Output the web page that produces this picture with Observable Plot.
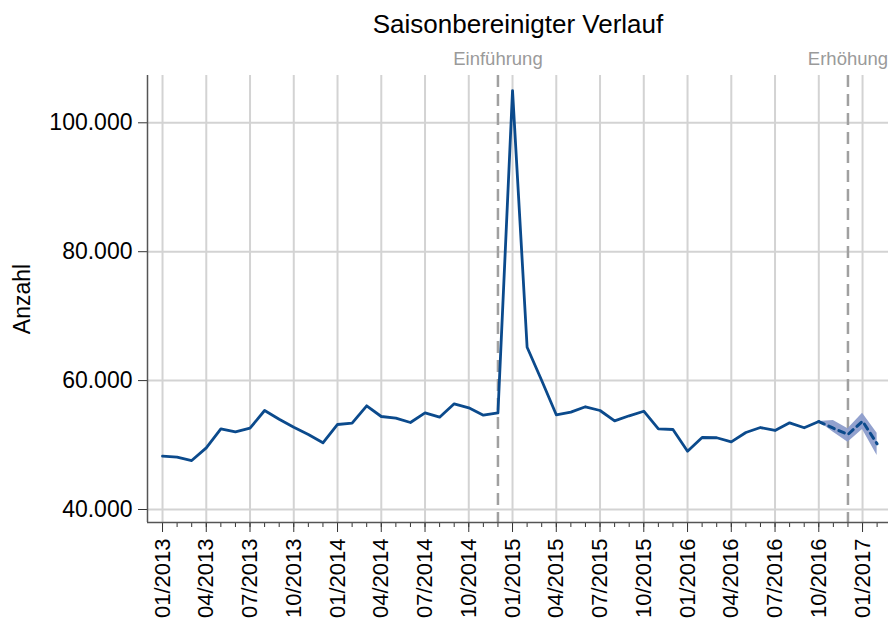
<!DOCTYPE html>
<html><head><meta charset="utf-8">
<script src="https://cdn.jsdelivr.net/npm/d3@7"></script>
<script src="https://cdn.jsdelivr.net/npm/@observablehq/plot@0.6"></script>
<style>
body{margin:0;background:#fff;}
#chart svg{display:block;}
</style></head><body><div id="chart"></div>
<script>
// monthly index 0 = 01/2013
const values = [48270, 48115, 47600, 49570, 52520, 52060, 52615, 55360, 54010, 52770,
  51640, 50350, 53190, 53390, 56090, 54430, 54170, 53500, 55000, 54320,
  56400, 55780, 54630, 55000, 105000, 65180, 60020, 54690, 55100, 55940,
  55360, 53760, 54540, 55250, 52520, 52410, 49050, 51170, 51130, 50500,
  51950, 52720, 52260, 53450, 52680, 53650];
const forecastStart = 45;
const forecastValues = [53650, 52615, 51640, 53700, 50190];
const forecastLow = [53650, 51990, 50440, 52410, 48380];
const forecastHigh = [53650, 53810, 52520, 54940, 51840];
const tickLabels = ["01/2013","04/2013","07/2013","10/2013","01/2014","04/2014","07/2014","10/2014",
  "01/2015","04/2015","07/2015","10/2015","01/2016","04/2016","07/2016","10/2016","01/2017"];
const yTicks = [40000, 60000, 80000, 100000];
const eventLabels = ["Einführung", "Erhöhung"];
const eventIndex = [23, 47];

const de = d3.formatLocale({decimal: ",", thousands: ".", grouping: [3], currency: ["", "€"]});
const fmt = de.format(",.0f");

const actual = values.map((v, i) => ({t: i, v}));
const fc = forecastValues.map((v, i) => ({t: forecastStart + i, v, lo: forecastLow[i], hi: forecastHigh[i]}));
const events = eventLabels.map((label, i) => ({t: eventIndex[i], label}));
const major = tickLabels.map((_, i) => i * 3);
const minor = d3.range(0, 50);
const xDomain = [-1.03, 49.78];
const yDomain = [37983, 107340];
const lineColor = "#0b4a8c";
const gridColor = "#d3d3d3";
const axisColor = "#555555";

const chart = Plot.plot({
  width: 890, height: 623,
  marginLeft: 147, marginRight: 2, marginTop: 75, marginBottom: 101,
  style: {fontFamily: "'Liberation Sans', Arial, sans-serif", fontSize: "22px", background: "#fff", color: "#000"},
  x: {type: "linear", domain: xDomain},
  y: {domain: yDomain},
  marks: [
    Plot.ruleX(major, {stroke: gridColor, strokeWidth: 2}),
    Plot.ruleY(yTicks, {stroke: gridColor, strokeWidth: 2}),
    Plot.ruleX(events, {x: "t", stroke: "#a0a0a0", strokeWidth: 2.5, strokeDasharray: "12,7"}),
    Plot.text(events, {x: "t", text: "label", frameAnchor: "top", lineAnchor: "middle", dy: -16, fill: "#9a9a9a", fontSize: 18.5}),
    Plot.areaY(fc, {x: "t", y1: "lo", y2: "hi", fill: "#8c9ccb", fillOpacity: 0.95}),
    Plot.line(actual, {x: "t", y: "v", stroke: lineColor, strokeWidth: 2.8}),
    Plot.line(fc, {x: "t", y: "v", stroke: lineColor, strokeWidth: 3, strokeDasharray: "6,5"}),
    Plot.axisX(minor, {tickSize: 5, text: null, stroke: "#333", label: null}),
    Plot.axisX(major, {tickSize: 10, tickPadding: 6, tickRotate: -90, tickFormat: (d, i) => tickLabels[i], stroke: "#333", fontSize: 22, label: null}),
    Plot.axisY(yTicks, {tickSize: 9, tickPadding: 6, tickFormat: fmt, stroke: "#333", fontSize: 23, label: null}),
    Plot.ruleX([xDomain[0]], {stroke: axisColor, strokeWidth: 1.5}),
    Plot.ruleY([yDomain[0]], {stroke: axisColor, strokeWidth: 1.5}),
    Plot.text(["Saisonbereinigter Verlauf"], {frameAnchor: "top", lineAnchor: "middle", dy: -51, fontSize: 26, fill: "#000"}),
    Plot.text(["Anzahl"], {frameAnchor: "left", textAnchor: "middle", lineAnchor: "middle", dx: -125, rotate: -90, fontSize: 23, fill: "#000"})
  ]
});
document.getElementById("chart").appendChild(chart);
</script></body></html>
